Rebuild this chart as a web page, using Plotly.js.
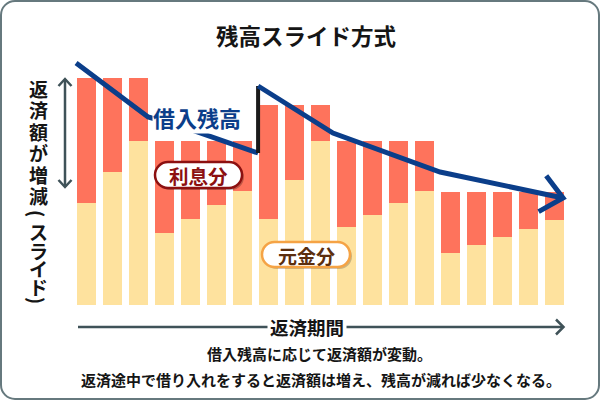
<!DOCTYPE html>
<html>
<head>
<meta charset="utf-8">
<script src="https://cdn.plot.ly/plotly-3.0.1.min.js"></script>
<style>html,body{margin:0;padding:0;background:#fff;}#chart{width:600px;height:400px;}</style>
</head>
<body>
<div id="chart"></div>
<script>
// ---- data ----
const periods = [0,1,2,3,4,5,6,7,8,9,10,11,12,13,14,15,16,17,18];
const principal = [102,133,164,72,86,100,114,86,125,164,78,90,102,114,52,60,68,76,85];
const interest  = [125,94,63,92,78,64,50,114,75,36,86,74,62,50,61,53,45,37,28];
const balanceX1 = [-0.40, 2.37, 3.71, 6.60];
const balanceY1 = [242, 188, 178, 152];
const borrowX = [6.60, 6.60];
const borrowY = [152, 219];
const balanceX2 = [6.60, 9.48, 13.60, 18.33];
const balanceY2 = [219, 172, 133, 107];

const titleText = '残高スライド方式';
const yLabelChars = ['返','済','額','が','増','減','(','ス','ラ','イ','ド',')'];
const yLabelPos = [88,109.5,131,152.5,174,195.5,213,231,250,268.5,286.5,300];
const xLabelText = '返済期間';
const balanceLabel = '借入残高';
const interestLabel = '利息分';
const principalLabel = '元金分';
const caption1 = '借入残高に応じて返済額が変動。';
const caption2 = '返済途中で借り入れをすると返済額は増え、残高が減れば少なくなる。';

// ---- layout geometry ----
const W = 600, H = 400;
const M = {l:60, r:20, t:55, b:95};
const pw = W - M.l - M.r, ph = H - M.t - M.b;
const xr = [-1.019, 18.981], yr = [0, 250];
const pxPerX = pw / (xr[1]-xr[0]);
const pxPerY = ph / (yr[1]-yr[0]);
const PX = px => (px - M.l) / pw;
const PY = py => (H - M.b - py) / ph;

const FONT = '"Noto Sans CJK JP", "Noto Sans", sans-serif';
const BLUE = '#0b3e8a';

// arrowhead computed from last segment of the balance series
function chevron(xs, ys, len, angDeg) {
  const n = xs.length;
  const tx = xs[n-1], ty = ys[n-1];
  const bx = (xs[n-2]-tx)*pxPerX, by = (ys[n-2]-ty)*pxPerY;
  const base = Math.atan2(by, bx);
  const a = angDeg*Math.PI/180;
  const p1 = [tx + len*Math.cos(base-a)/pxPerX, ty + len*Math.sin(base-a)/pxPerY];
  const p2 = [tx + len*Math.cos(base+a)/pxPerX, ty + len*Math.sin(base+a)/pxPerY];
  return {x:[p1[0], tx, p2[0]], y:[p1[1], ty, p2[1]]};
}
const head = chevron(balanceX2, balanceY2, 28, 41);

const traces = [
  {type:'bar', x:periods, y:principal, marker:{color:'#fee29e'}, width:0.73, hoverinfo:'skip'},
  {type:'bar', x:periods, y:interest, marker:{color:'#fe735c'}, width:0.73, hoverinfo:'skip'},
  {type:'scatter', mode:'lines', x:balanceX1, y:balanceY1, line:{color:BLUE, width:5}, hoverinfo:'skip'},
  {type:'scatter', mode:'lines', x:borrowX, y:borrowY, line:{color:'#1a1a1a', width:4}, hoverinfo:'skip'},
  {type:'scatter', mode:'lines', x:balanceX2, y:balanceY2, line:{color:BLUE, width:5}, hoverinfo:'skip'},
  {type:'scatter', mode:'lines', x:head.x, y:head.y, line:{color:BLUE, width:5}, hoverinfo:'skip'}
];

// rounded rectangle path in paper coordinates from pixel box
function rrect(x0,y0,x1,y1,r) {
  const k = 0.5523*r;
  const P = (x,y) => PX(x).toFixed(5)+','+PY(y).toFixed(5);
  return 'M'+P(x0+r,y0)+' L'+P(x1-r,y0)+
    ' C'+P(x1-r+k,y0)+' '+P(x1,y0+r-k)+' '+P(x1,y0+r)+
    ' L'+P(x1,y1-r)+
    ' C'+P(x1,y1-r+k)+' '+P(x1-r+k,y1)+' '+P(x1-r,y1)+
    ' L'+P(x0+r,y1)+
    ' C'+P(x0+r-k,y1)+' '+P(x0,y1-r+k)+' '+P(x0,y1-r)+
    ' L'+P(x0,y0+r)+
    ' C'+P(x0,y0+r-k)+' '+P(x0+r-k,y0)+' '+P(x0+r,y0)+' Z';
}
function polyline(pts) {
  return pts.map((p,i)=>(i?'L':'M')+PX(p[0]).toFixed(5)+','+PY(p[1]).toFixed(5)).join(' ');
}
const GRAY = '#3f5258';
const shapes = [
  {type:'path', xref:'paper', yref:'paper', path:rrect(1,1,599,399,14), line:{color:'#66797e', width:2}, layer:'below'},
  {type:'path', xref:'paper', yref:'paper', path:polyline([[65,79],[65,187]]), line:{color:GRAY, width:2.5}},
  {type:'path', xref:'paper', yref:'paper', path:polyline([[58.5,86],[65,79],[71.5,86]]), line:{color:GRAY, width:2.5}},
  {type:'path', xref:'paper', yref:'paper', path:polyline([[58.5,180],[65,187],[71.5,180]]), line:{color:GRAY, width:2.5}},
  {type:'path', xref:'paper', yref:'paper', path:polyline([[78,327],[563,327]]), line:{color:GRAY, width:2.5}},
  {type:'path', xref:'paper', yref:'paper', path:polyline([[556,319.5],[563.5,327],[556,334.5]]), line:{color:GRAY, width:2.5}},
  // pills with soft shadow
  {type:'path', xref:'paper', yref:'paper', path:rrect(157,164,244,190,13), fillcolor:'rgba(0,0,0,0.25)', line:{width:0}},
  {type:'path', xref:'paper', yref:'paper', path:rrect(155,162,242,188,13), fillcolor:'#ffffff', line:{color:'#8c1010', width:2.5}},
  {type:'path', xref:'paper', yref:'paper', path:rrect(264,244,352,269,12.5), fillcolor:'rgba(0,0,0,0.2)', line:{width:0}},
  {type:'path', xref:'paper', yref:'paper', path:rrect(262,242,350,267,12.5), fillcolor:'#ffffff', line:{color:'#f5a345', width:2.5}}
];

const ann = (text, px, py, size, color, extra) => Object.assign({
  text:'<b>'+text+'</b>', xref:'paper', yref:'paper', x:PX(px), y:PY(py), xanchor:'center', yanchor:'middle',
  showarrow:false, font:{family:FONT, size:size, color:color, weight:900}
}, extra||{});

const annotations = [
  ann(titleText, 306, 35, 22.5, '#151515'),
  ann(balanceLabel, 197, 117, 22, BLUE, {bgcolor:'#ffffff', borderpad:0}),
  ann(interestLabel, 198.5, 175, 19.5, '#8c1010'),
  ann(principalLabel, 306, 255, 19, '#5c2e0e'),
  ann(xLabelText, 307, 327, 18.5, '#151515', {bgcolor:'#ffffff', borderpad:2}),
  ann(caption1, 319.5, 353, 15, '#151515'),
  ann(caption2, 320.5, 379, 15, '#151515')
];
yLabelChars.forEach((c,i)=>{
  const rot = (c==='(' || c===')');
  annotations.push(ann(c, 38, yLabelPos[i], 19, '#151515', rot ? {textangle:90} : {}));
});

const layout = {
  width:W, height:H, margin:M, barmode:'stack', bargap:0.27,
  showlegend:false, paper_bgcolor:'#ffffff', plot_bgcolor:'#ffffff',
  xaxis:{range:xr, visible:false, fixedrange:true},
  yaxis:{range:yr, visible:false, fixedrange:true},
  shapes:shapes, annotations:annotations
};
Plotly.newPlot('chart', traces, layout, {staticPlot:true, displayModeBar:false});
</script>
</body>
</html>
